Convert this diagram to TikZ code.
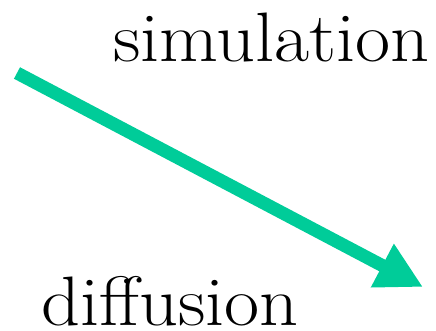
\documentclass[tikz,border=0pt]{standalone}
\usepackage{tikz}
\usetikzlibrary{arrows.meta}
\definecolor{flowgreen}{RGB}{0,204,153}

\begin{document}
\begin{tikzpicture}[x=1pt, y=-1pt, font=\fontsize{70}{82}\selectfont,
		word/.style={inner sep=0pt, anchor=base west, xscale=1.09, transform shape}]
		\useasboundingbox (0,0) rectangle (436,331);
		% labels
		\node[word] (sim) at (113,62) {simulation};
		\node[word] (dif) at (41,325) {diffusion};
		% the arrow
		\coordinate (from) at (17,73);
		\coordinate (to) at (423,287);
		\draw[flowgreen, line width=13pt, -{Triangle[length=46pt, width=46pt]}] (from) -- (to);
	\end{tikzpicture}
\end{document}
